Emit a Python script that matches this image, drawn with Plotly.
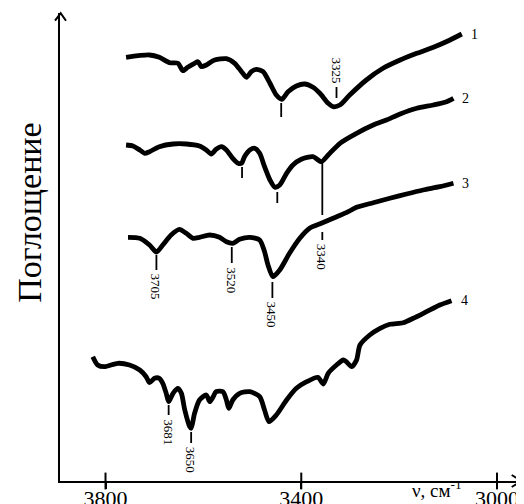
import plotly.graph_objects as go

# ---- data (wavenumber, cm-1 ; absorbance, arbitrary units with offsets) ----
wn1 = [3758, 3710, 3690, 3669, 3652, 3642, 3632, 3618, 3611, 3604, 3594, 3577, 3553, 3536, 3522,
       3512, 3502, 3492, 3478, 3464, 3451, 3440, 3427, 3410, 3393, 3376, 3362, 3345, 3335, 3321,
       3301, 3267, 3233, 3198, 3164, 3130, 3096, 3072]
ab1 = [4.237, 4.26, 4.237, 4.183, 4.177, 4.103, 4.137, 4.177, 4.193, 4.143, 4.16, 4.21, 4.223, 4.177,
       4.093, 4.037, 4.093, 4.117, 4.093, 3.977, 3.86, 3.817, 3.893, 3.95, 3.97, 3.937, 3.877, 3.777,
       3.743, 3.76, 3.86, 4.01, 4.127, 4.21, 4.277, 4.337, 4.41, 4.47]

wn2 = [3758, 3744, 3730, 3720, 3710, 3690, 3662, 3635, 3608, 3594, 3584, 3574, 3563, 3553, 3540,
       3529, 3522, 3516, 3505, 3495, 3485, 3475, 3464, 3454, 3444, 3430, 3417, 3400, 3376, 3359,
       3345, 3321, 3287, 3253, 3226, 3198, 3164, 3130, 3103, 3089]
ab2 = [3.36, 3.35, 3.31, 3.277, 3.293, 3.343, 3.37, 3.37, 3.35, 3.31, 3.27, 3.317, 3.343, 3.31,
       3.227, 3.177, 3.177, 3.243, 3.31, 3.327, 3.277, 3.143, 3.01, 2.937, 2.96, 3.077, 3.16, 3.217,
       3.243, 3.193, 3.26, 3.377, 3.477, 3.56, 3.61, 3.67, 3.727, 3.76, 3.793, 3.827]

wn3 = [3754, 3730, 3710, 3696, 3683, 3666, 3649, 3635, 3621, 3608, 3587, 3567, 3553, 3540, 3526,
       3505, 3485, 3475, 3468, 3458, 3444, 3424, 3403, 3383, 3359, 3335, 3308, 3287, 3253, 3219,
       3185, 3151, 3117, 3089]
ab3 = [2.437, 2.427, 2.36, 2.29, 2.36, 2.46, 2.517, 2.477, 2.427, 2.437, 2.46, 2.437, 2.393, 2.377,
       2.417, 2.437, 2.41, 2.293, 2.16, 2.043, 2.11, 2.277, 2.427, 2.527, 2.577, 2.627, 2.683, 2.737,
       2.783, 2.827, 2.87, 2.91, 2.943, 2.977]

wn4 = [3826, 3816, 3802, 3775, 3751, 3730, 3717, 3710, 3700, 3690, 3683, 3676, 3671, 3662, 3652,
       3645, 3638, 3628, 3625, 3618, 3608, 3594, 3587, 3580, 3574, 3560, 3553, 3548, 3540, 3526,
       3505, 3485, 3475, 3466, 3451, 3430, 3410, 3389, 3366, 3355, 3345, 3328, 3314, 3308, 3297,
       3287, 3280, 3260, 3239, 3219, 3192, 3171, 3144, 3117, 3093]
ab4 = [1.243, 1.16, 1.143, 1.177, 1.16, 1.11, 1.043, 0.983, 1.027, 1.027, 0.977, 0.877, 0.793, 0.877,
       0.927, 0.877, 0.71, 0.543, 0.527, 0.677, 0.81, 0.86, 0.793, 0.843, 0.893, 0.893, 0.81, 0.727,
       0.81, 0.877, 0.893, 0.843, 0.71, 0.593, 0.66, 0.81, 0.927, 0.993, 1.037, 0.97, 1.077, 1.16,
       1.21, 1.193, 1.143, 1.21, 1.36, 1.46, 1.527, 1.567, 1.583, 1.627, 1.693, 1.76, 1.803]

curve_names = ["1", "2", "3", "4"]

# labelled band markers
peak_labels = ["3325", "3705", "3520", "3450", "3340", "3681", "3650"]
peak_wn = [3328, 3696, 3542, 3459, 3357, 3671, 3625]
peak_top = [3.94, 2.26, 2.34, 1.99, 2.49, 0.76, 0.49]
peak_bot = [3.83, 2.11, 2.18, 1.83, 2.41, 0.66, 0.38]
peak_above = [True, False, False, False, False, False, False]

# unlabelled band markers
mark_wn = [3441, 3521, 3449, 3357]
mark_top = [3.78, 3.14, 2.89, 3.21]
mark_bot = [3.64, 3.03, 2.78, 2.66]

x_ticks = [3800, 3400, 3000]

FONT = "Liberation Serif"

fig = go.Figure()
for wn, ab in [(wn1, ab1), (wn2, ab2), (wn3, ab3), (wn4, ab4)]:
    fig.add_trace(go.Scatter(x=wn, y=ab, mode="lines",
                             line=dict(color="black", width=4.8, shape="spline", smoothing=0.7),
                             hoverinfo="skip", showlegend=False))

# band marker lines
xs, ys = [], []
for w, t, b in zip(peak_wn + mark_wn, peak_top + mark_top, peak_bot + mark_bot):
    xs += [w, w, None]
    ys += [t, b, None]
fig.add_trace(go.Scatter(x=xs, y=ys, mode="lines", line=dict(color="black", width=1.8),
                         hoverinfo="skip", showlegend=False))

# axis tick crossings
fig.add_trace(go.Scatter(x=x_ticks, y=[0] * len(x_ticks), mode="markers",
                         marker=dict(symbol="line-ns", size=12, line=dict(color="black", width=2)),
                         cliponaxis=False, hoverinfo="skip", showlegend=False))

annotations = []
for w, t, b, lab, above in zip(peak_wn, peak_top, peak_bot, peak_labels, peak_above):
    annotations.append(dict(x=w, y=t if above else b, text=lab, showarrow=False, textangle=90,
                            xanchor="center", yanchor="bottom" if above else "top",
                            yshift=2 if above else -2,
                            font=dict(family=FONT, size=13, color="black")))

for name, wn, ab in zip(curve_names, [wn1, wn2, wn3, wn4], [ab1, ab2, ab3, ab4]):
    annotations.append(dict(x=wn[-1], y=ab[-1], text=name, showarrow=False, xanchor="left",
                            xshift=7, font=dict(family=FONT, size=14, color="black")))

annotations.append(dict(xref="paper", yref="paper", x=-0.065, y=0.573, text="Поглощение",
                        showarrow=False, textangle=-90, xanchor="center", yanchor="middle",
                        font=dict(family=FONT, size=34, color="black")))
annotations.append(dict(xref="paper", yref="paper", x=0.818, y=0.012, text="ν, см<sup>-1</sup>",
                        showarrow=False, xanchor="center", yanchor="top",
                        font=dict(family=FONT, size=19, color="black")))

shapes = [
    dict(type="path", xref="paper", yref="paper",
         path="M -0.0108,0.9835 L 0.0015,0.9995 L 0.013,0.9835",
         line=dict(color="black", width=2)),
    dict(type="path", xref="paper", yref="paper",
         path="M 0.9798,0.0128 L 1.0015,0 L 0.9798,-0.0128",
         line=dict(color="black", width=2)),
]

# the page body adds an 8 px offset, so the figure is sized to fit the window from there
fig.update_layout(
    width=516, height=496,
    margin=dict(l=52, r=3, t=5, b=23, autoexpand=False),
    paper_bgcolor="white", plot_bgcolor="white",
    annotations=annotations, shapes=shapes,
    xaxis=dict(range=[3893, 2951], showgrid=False, zeroline=False, showline=True,
               automargin=False,
               linecolor="black", linewidth=2, ticks="outside", ticklen=6, tickwidth=2,
               tickcolor="black", tickvals=x_ticks, ticktext=[str(v) for v in x_ticks],
               ticklabelstandoff=-9,
               tickfont=dict(family=FONT, size=22, color="black")),
    yaxis=dict(range=[0, 4.68], showgrid=False, zeroline=False, showline=True,
               automargin=False,
               linecolor="black", linewidth=2, ticks="", showticklabels=False),
)

fig.write_html("out.html")
